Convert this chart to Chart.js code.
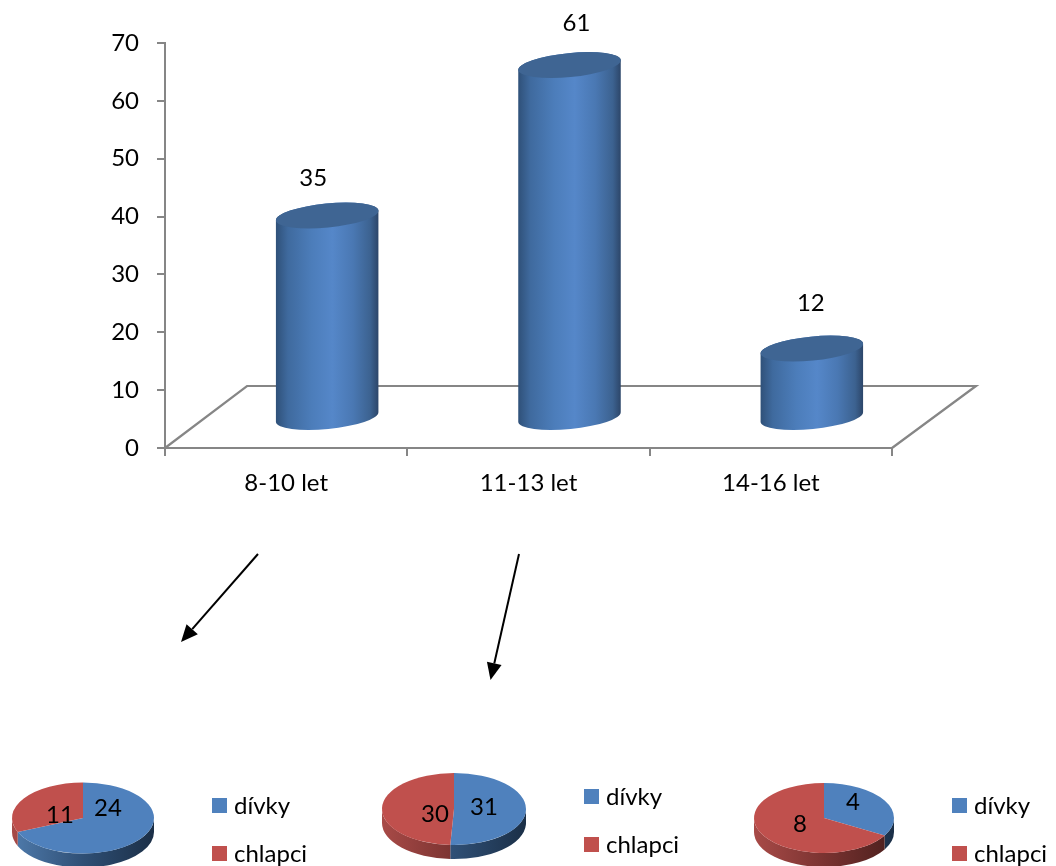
<!DOCTYPE html>
<html>
<head>
<meta charset="utf-8">
<title>Věkové skupiny</title>
<script src="https://cdn.jsdelivr.net/npm/chart.js@4"></script>
<style>
  html, body { margin: 0; padding: 0; background: #fff; overflow: hidden; }
  #page { position: relative; width: 1056px; height: 866px; }
  canvas { position: absolute; display: block; }
</style>
</head>
<body>
<div id="page">
  <canvas id="mainChart" width="1056" height="866" style="left:0;top:0"></canvas>
  <canvas id="pie1" width="350" height="96" style="left:0;top:770px"></canvas>
  <canvas id="pie2" width="350" height="114" style="left:360px;top:752px"></canvas>
  <canvas id="pie3" width="346" height="96" style="left:710px;top:770px"></canvas>
</div>
<script>
// data
const categories = ['8-10 let', '11-13 let', '14-16 let'];
const counts = [35, 61, 12];
const yTicks = [0, 10, 20, 30, 40, 50, 60, 70];
const pieLabels = ['dívky', 'chlapci'];
const pie8to10 = [24, 11];
const pie11to13 = [31, 30];
const pie14to16 = [4, 8];

const FONT_SIZE = 24;
const FONT = FONT_SIZE + 'px Lato';
const AXIS_GREY = '#868686';
const BLUE = '#4f81bd';
const RED = '#c0504d';

// posun "hloubky" 3D grafu
const DEPTH_X = 41;
const DEPTH_Y = 30;
const FLOOR_X = 83;
const FLOOR_Y = 62;
const TILT = -0.098;
const countLabelShift = [[-14, -37], [7, -42], [-1, -45]];

function drawCylinder(ctx, cx, topY, baseY, rx) {
  const ry = 12;
  const grad = ctx.createLinearGradient(cx - rx, 0, cx + rx, 0);
  grad.addColorStop(0, '#2f5078');
  grad.addColorStop(0.12, '#3f6a9e');
  grad.addColorStop(0.35, '#4c7dba');
  grad.addColorStop(0.55, '#5587c9');
  grad.addColorStop(0.75, '#4a78b3');
  grad.addColorStop(0.92, '#3c6290');
  grad.addColorStop(1, '#2c4568');

  ctx.beginPath();
  ctx.ellipse(cx, baseY, rx, ry, TILT, Math.PI, 0, true);
  ctx.ellipse(cx, topY, rx, ry, TILT, 0, Math.PI, true);
  ctx.closePath();
  ctx.fillStyle = grad;
  ctx.fill();

  ctx.beginPath();
  ctx.ellipse(cx, topY, rx, ry, TILT, 0, Math.PI * 2);
  ctx.fillStyle = '#3f6593';
  ctx.fill();
}

// podlaha, valce a popisky - sloupce bereme ze scale knihovny
const cylinderPlugin = {
  id: 'cylinders',
  beforeDatasetsDraw(chart) {
    const ctx = chart.ctx;
    const area = chart.chartArea;
    const y0 = chart.scales.y.getPixelForValue(0);

    ctx.save();
    ctx.strokeStyle = AXIS_GREY;
    ctx.lineWidth = 2.2;
    ctx.beginPath();
    ctx.moveTo(area.left, y0);
    ctx.lineTo(area.left + FLOOR_X - 1, y0 - FLOOR_Y);
    ctx.lineTo(area.right + FLOOR_X + 1, y0 - FLOOR_Y);
    ctx.lineTo(area.right, y0);
    ctx.stroke();

    chart.getDatasetMeta(0).data.forEach((bar, i) => {
      const cx = bar.x + DEPTH_X;
      drawCylinder(ctx, cx, bar.y - DEPTH_Y, bar.base - DEPTH_Y, bar.width / 2);
      ctx.fillStyle = '#000';
      ctx.font = FONT;
      ctx.textAlign = 'center';
      ctx.textBaseline = 'middle';
      ctx.fillText(counts[i], cx + countLabelShift[i][0], bar.y - DEPTH_Y + countLabelShift[i][1]);
    });
    ctx.restore();
    return false;
  },
  afterDraw(chart) {
    drawArrow(chart.ctx, 258, 554, 181, 642);
    drawArrow(chart.ctx, 519, 554, 490.5, 680);
  }
};

function drawArrow(ctx, x1, y1, x2, y2) {
  const a = Math.atan2(y2 - y1, x2 - x1);
  const len = 17;
  const w = 7.5;
  const bx = x2 - len * Math.cos(a);
  const by = y2 - len * Math.sin(a);
  ctx.save();
  ctx.strokeStyle = '#000';
  ctx.fillStyle = '#000';
  ctx.lineWidth = 2;
  ctx.beginPath();
  ctx.moveTo(x1, y1);
  ctx.lineTo(bx, by);
  ctx.stroke();
  ctx.beginPath();
  ctx.moveTo(x2, y2);
  ctx.lineTo(bx + w * Math.sin(a), by - w * Math.cos(a));
  ctx.lineTo(bx - w * Math.sin(a), by + w * Math.cos(a));
  ctx.closePath();
  ctx.fill();
  ctx.restore();
}

new Chart(document.getElementById('mainChart'), {
  type: 'bar',
  data: {
    labels: categories,
    datasets: [{ data: counts, backgroundColor: BLUE, categoryPercentage: 1, barPercentage: 0.425 }]
  },
  options: {
    responsive: false,
    animation: false,
    layout: { padding: { left: 0, top: 43, right: 164, bottom: 0 } },
    plugins: { legend: { display: false }, tooltip: { enabled: false } },
    scales: {
      x: {
        afterFit(scale) { scale.height = 418; },
        border: { color: AXIS_GREY, width: 2 },
        grid: { drawOnChartArea: false, offset: true, color: AXIS_GREY, tickColor: AXIS_GREY, tickLength: 8, lineWidth: 2 },
        ticks: { color: '#000', font: { family: 'Lato', size: FONT_SIZE }, padding: 13, maxRotation: 0 }
      },
      y: {
        min: 0,
        max: 70,
        afterFit(scale) { scale.width = 165; },
        afterBuildTicks(scale) { scale.ticks = yTicks.map(v => ({ value: v })); },
        border: { color: AXIS_GREY, width: 2 },
        grid: { drawOnChartArea: false, color: AXIS_GREY, tickColor: AXIS_GREY, tickLength: 8, lineWidth: 2 },
        ticks: { color: '#000', font: { family: 'Lato', size: FONT_SIZE }, padding: 18 }
      }
    }
  },
  plugins: [cylinderPlugin]
});

// kolace - zplostele, bok a legenda kreslene pluginem
const SQUASH = 0.5;
const sideColors = [
  ['#4f7bac', '#2f4f75', '#1b2f47'],
  ['#a84a47', '#7a3331', '#4b1f1d']
];

const pie3dPlugin = {
  id: 'pie3d',
  beforeDatasetsDraw(chart, args, opts) {
    const ctx = chart.ctx;
    const arcs = chart.getDatasetMeta(0).data;
    const cx = arcs[0].x;
    const cy = arcs[0].y;
    const r = arcs[0].outerRadius;

    ctx.save();
    arcs.forEach((arc, i) => {
      const from = Math.max(arc.startAngle, 0);
      const to = Math.min(arc.endAngle, Math.PI);
      if (to <= from) return;
      const grad = ctx.createLinearGradient(cx - r, 0, cx + r, 0);
      grad.addColorStop(0, sideColors[i][0]);
      grad.addColorStop(0.5, sideColors[i][1]);
      grad.addColorStop(1, sideColors[i][2]);
      ctx.beginPath();
      ctx.ellipse(cx, cy, r, r * SQUASH, 0, from, to);
      ctx.ellipse(cx, cy + opts.depth, r, r * SQUASH, 0, to, from, true);
      ctx.closePath();
      ctx.fillStyle = grad;
      ctx.fill();
    });
    ctx.restore();

    ctx.save();
    ctx.translate(cx, cy);
    ctx.scale(1, SQUASH);
    ctx.translate(-cx, -cy);
  },
  afterDatasetsDraw(chart, args, opts) {
    const ctx = chart.ctx;
    ctx.restore();

    const arc0 = chart.getDatasetMeta(0).data[0];
    const values = chart.data.datasets[0].data;
    ctx.save();
    ctx.font = FONT;
    ctx.fillStyle = '#000';
    ctx.textBaseline = 'middle';
    ctx.textAlign = 'center';
    values.forEach((v, i) => {
      ctx.fillText(v, arc0.x + opts.labelShift[i][0], arc0.y + opts.labelShift[i][1]);
    });

    ctx.textAlign = 'left';
    chart.data.labels.forEach((label, i) => {
      const y = opts.legendY + i * 48;
      ctx.fillStyle = chart.data.datasets[0].backgroundColor[i];
      ctx.fillRect(opts.legendX, y, 15, 15);
      ctx.fillStyle = '#000';
      ctx.fillText(label, opts.legendX + 22, y + 8);
    });
    ctx.restore();
  }
};

function makePie(id, values, radius, paddingRight, pieOpts) {
  new Chart(document.getElementById(id), {
    type: 'pie',
    data: {
      labels: pieLabels,
      datasets: [{ data: values, backgroundColor: [BLUE, RED], borderWidth: 0, clip: false }]
    },
    options: {
      responsive: false,
      animation: false,
      radius: radius,
      layout: { padding: { right: paddingRight } },
      plugins: { legend: { display: false }, tooltip: { enabled: false }, pie3d: pieOpts }
    },
    plugins: [pie3dPlugin]
  });
}

makePie('pie1', pie8to10, 71, 184, { depth: 14, legendX: 212, legendY: 28, labelShift: [[25, -10], [-23, -3]] });
makePie('pie2', pie11to13, 72, 162, { depth: 14, legendX: 224, legendY: 37, labelShift: [[30, -2], [-19, 5]] });
makePie('pie3', pie14to16, 70, 118, { depth: 14, legendX: 242, legendY: 28, labelShift: [[29, -16], [-24, 6]] });
</script>
</body>
</html>
